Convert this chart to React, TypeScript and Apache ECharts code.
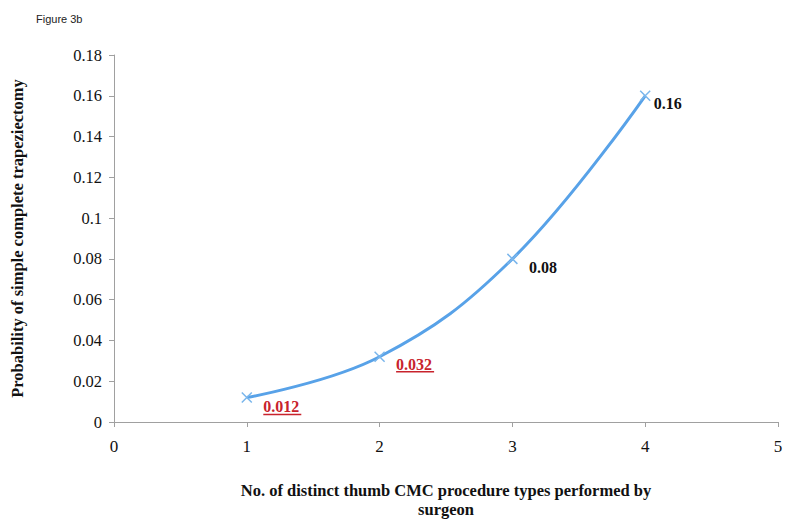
import React, { useEffect, useRef } from "react";
import * as echarts from "echarts";

const xValues = [1, 2, 3, 4];
const yValues = [0.012, 0.032, 0.08, 0.16];
const labelTexts = ["0.012", "0.032", "0.08", "0.16"];
const labelHighlighted = [true, true, false, false];

const SERIF = "'Liberation Serif', 'DejaVu Serif', serif";
const labelOffsets: [number, number][] = [
  [4, 10],
  [4, 8],
  [4, 9],
  [-4, 8],
];

export default function App() {
  const ref = useRef<HTMLDivElement>(null);
  useEffect(() => {
    if (!ref.current) return;
    const chart = echarts.init(ref.current, null, { renderer: "svg" });
    const data = xValues.map((x, i) => ({
      value: [x, yValues[i]],
      label: labelHighlighted[i]
        ? {
            formatter: "{r|" + labelTexts[i] + "}\n{u|}",
            offset: labelOffsets[i],
          }
        : {
            formatter: "{b|" + labelTexts[i] + "}",
            offset: labelOffsets[i],
          },
    }));
    chart.setOption({
      animation: false,
      backgroundColor: "#ffffff",
      title: {
        text: "Figure 3b",
        left: 31,
        top: 8,
        textStyle: {
          fontFamily: "'Liberation Sans', Arial, sans-serif",
          fontSize: 11,
          fontWeight: "normal",
          color: "#222",
        },
      },
      grid: { left: 114, right: 22, top: 55, bottom: 108 },
      xAxis: {
        type: "value",
        min: 0,
        max: 5,
        interval: 1,
        name: "No. of distinct thumb CMC procedure types performed by\nsurgeon",
        nameLocation: "middle",
        nameGap: 59,
        nameTextStyle: {
          fontFamily: SERIF,
          fontWeight: "bold",
          fontSize: 16.5,
          color: "#111",
          lineHeight: 19,
        },
        axisLine: { show: true, lineStyle: { color: "#a0a0a0", width: 1 } },
        axisTick: { show: true, length: 5, inside: false, lineStyle: { color: "#a0a0a0" } },
        axisLabel: { fontFamily: SERIF, fontSize: 17, color: "#111", margin: 16 },
        splitLine: { show: false },
      },
      yAxis: {
        type: "value",
        min: 0,
        max: 0.18,
        interval: 0.02,
        name: "Probability of simple complete trapeziectomy",
        nameLocation: "middle",
        nameRotate: 90,
        nameGap: 88,
        nameTextStyle: {
          fontFamily: SERIF,
          fontWeight: "bold",
          fontSize: 16.5,
          color: "#111",
        },
        axisLine: { show: true, lineStyle: { color: "#a0a0a0", width: 1 } },
        axisTick: { show: true, length: 5, inside: false, lineStyle: { color: "#a0a0a0" } },
        axisLabel: {
          fontFamily: SERIF,
          fontSize: 16.5,
          color: "#111",
          margin: 12,
          formatter: (v: number) => String(parseFloat(v.toFixed(2))),
        },
        splitLine: { show: false },
      },
      series: [
        {
          type: "line",
          data,
          smooth: 0.4,
          lineStyle: { color: "#58a2e8", width: 3 },
          symbol: "path://M0,0L10,10M10,0L0,10",
          symbolSize: 10,
          itemStyle: { color: "none", borderColor: "#7ab6ec", borderWidth: 1.5 },
          label: {
            show: true,
            position: "right",
            rich: {
              r: {
                fontFamily: SERIF,
                fontWeight: "bold",
                fontSize: 16,
                color: "#c8232c",
                lineHeight: 14,
              },
              u: {
                width: 38,
                height: 1.5,
                backgroundColor: "#c8232c",
              },
              b: {
                fontFamily: SERIF,
                fontWeight: "bold",
                fontSize: 16,
                color: "#111",
              },
            },
          },
        },
      ],
    });
    return () => chart.dispose();
  }, []);
  return <div ref={ref} style={{ width: 800, height: 530, margin: -8 }} />;
}
